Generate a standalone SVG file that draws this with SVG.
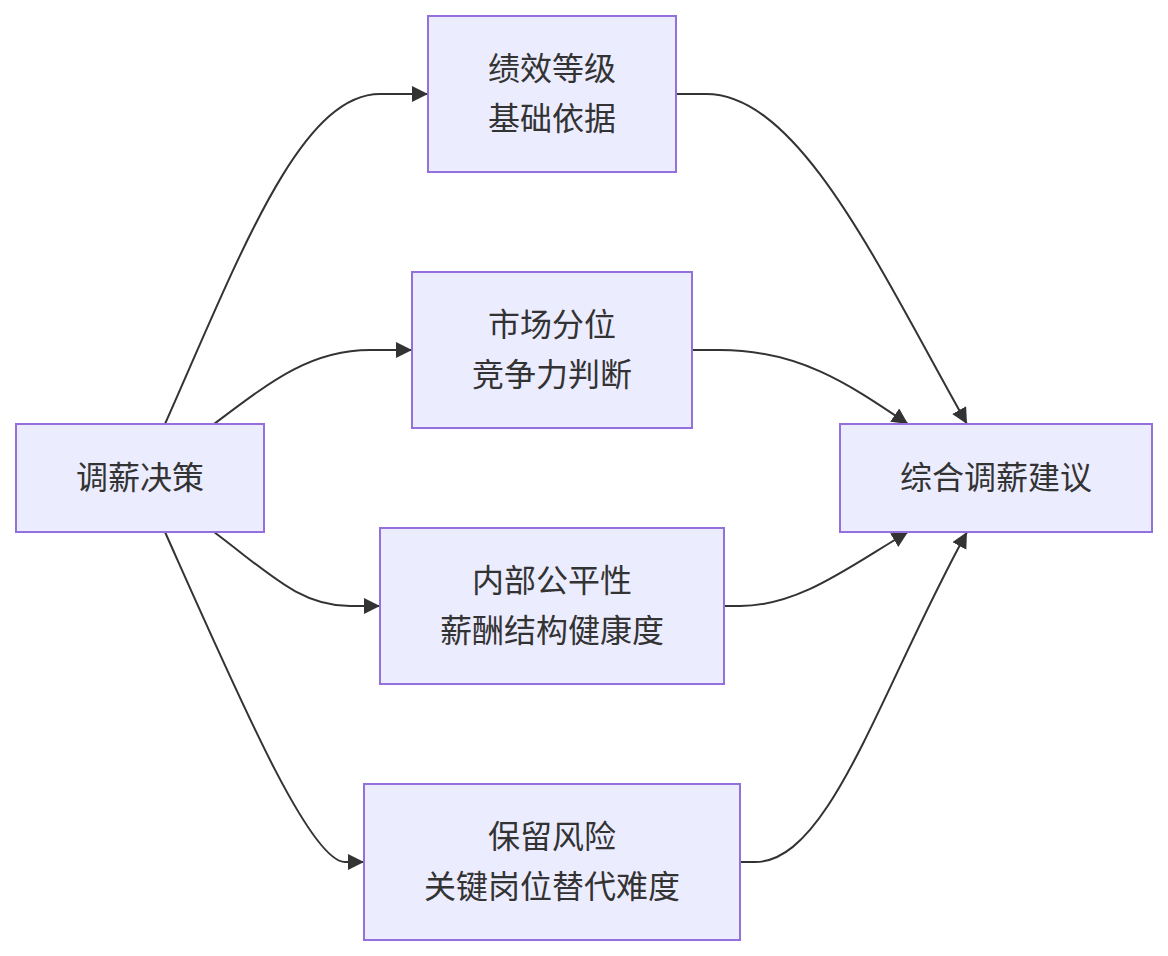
<svg xmlns="http://www.w3.org/2000/svg" width="1168" height="956" viewBox="0 0 1168 956">
<style>
.node rect{fill:#ECECFF;stroke:#9370DB;stroke-width:2}
.node text{font-family:"Noto Sans CJK SC","Noto Sans",sans-serif;font-size:32px;fill:#333;text-anchor:middle;dominant-baseline:central}
.edges path{fill:none;stroke:#333;stroke-width:2}
</style>
<defs>
<marker id="arrow" markerUnits="userSpaceOnUse" markerWidth="17" markerHeight="17" refX="16" refY="8" orient="auto">
<path d="M0,0 L16,8 L0,16 z" fill="#333"/>
</marker>
</defs>
<rect width="1168" height="956" fill="#fff"/>
<g class="edges">
<path d="M165,424 C240,255 300,94 380,94 L428,94" marker-end="url(#arrow)"/>
<path d="M214,424 C270,382 310,350 370,350 L412,350" marker-end="url(#arrow)"/>
<path d="M214,532 C270,574 300,606 350,606 L380,606" marker-end="url(#arrow)"/>
<path d="M165,532 C240,700 310,862 345,862 L364,862" marker-end="url(#arrow)"/>
<path d="M676,94 L706,94 C800,94 880,270 967,424" marker-end="url(#arrow)"/>
<path d="M692,350 L720,350 C800,350 850,385 908,424" marker-end="url(#arrow)"/>
<path d="M724,606 L740,606 C800,606 850,566 908,532" marker-end="url(#arrow)"/>
<path d="M740,862 L755,862 C830,862 880,690 967,532" marker-end="url(#arrow)"/>
</g>
<g id="A" class="node"><rect x="16" y="424" width="248" height="108"/><text x="140" y="475">调薪决策</text></g>
<g id="B" class="node"><rect x="428" y="16" width="248" height="156"/><text x="552" y="66">绩效等级</text><text x="552" y="116">基础依据</text></g>
<g id="C" class="node"><rect x="412" y="272" width="280" height="156"/><text x="552" y="322">市场分位</text><text x="552" y="372">竞争力判断</text></g>
<g id="D" class="node"><rect x="380" y="528" width="344" height="156"/><text x="552" y="578">内部公平性</text><text x="552" y="628">薪酬结构健康度</text></g>
<g id="E" class="node"><rect x="364" y="784" width="376" height="156"/><text x="552" y="834">保留风险</text><text x="552" y="884">关键岗位替代难度</text></g>
<g id="F" class="node"><rect x="840" y="424" width="312" height="108"/><text x="996" y="475">综合调薪建议</text></g>
</svg>
